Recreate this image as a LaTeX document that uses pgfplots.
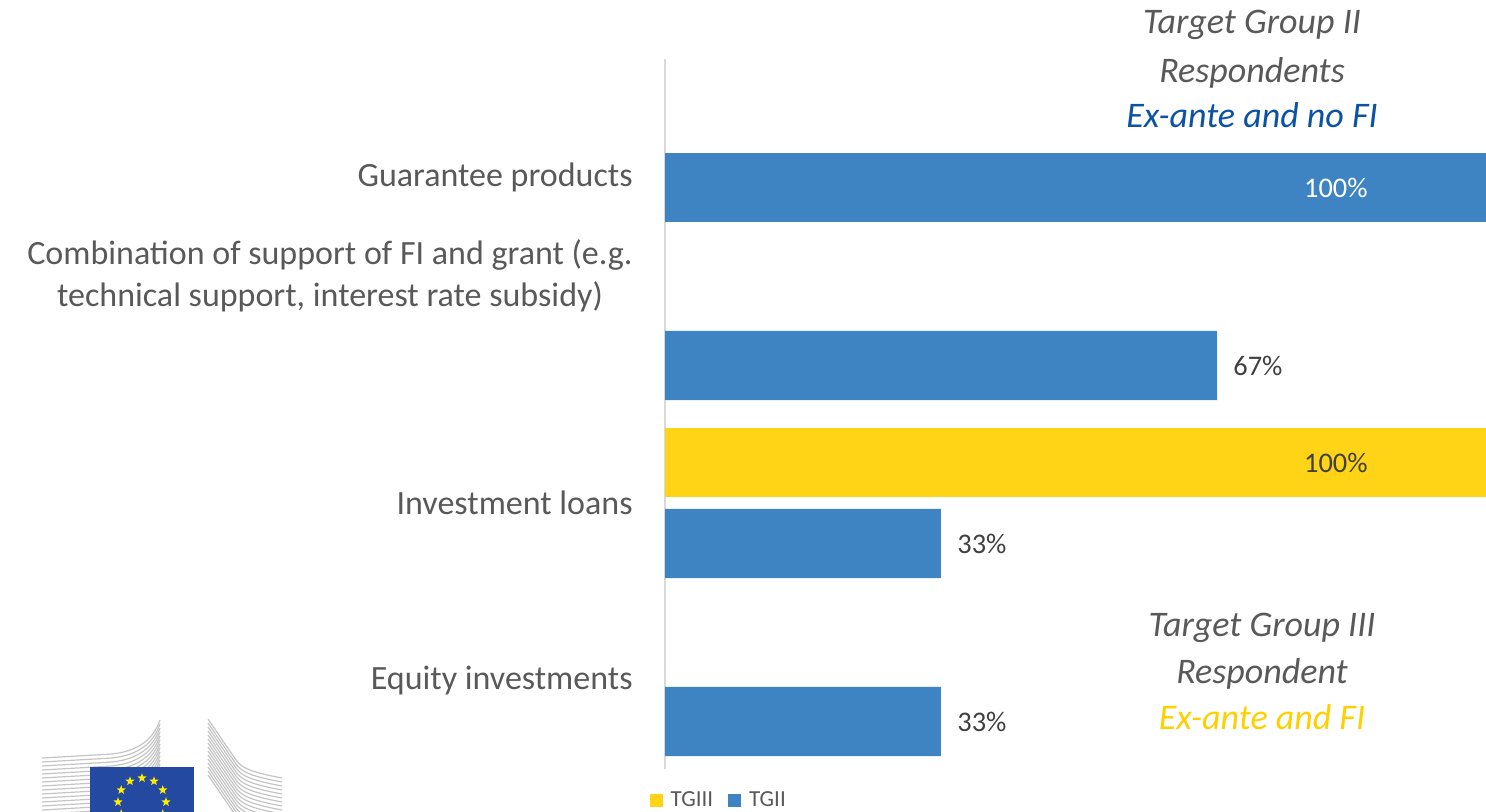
\documentclass[border=0pt]{standalone}
\usepackage{pgfplots}
\pgfplotsset{compat=1.18}
\usepackage{fontspec}
\setmainfont{Carlito}
\usetikzlibrary{shapes.geometric}
\definecolor{barblue}{HTML}{3E84C2}
\definecolor{baryellow}{HTML}{FFD417}
\definecolor{txtgray}{HTML}{595959}
\definecolor{lblgray}{HTML}{404040}
\definecolor{annblue}{HTML}{0B52A3}
\definecolor{annyellow}{HTML}{FFD000}
\definecolor{eublue}{HTML}{2349A1}
\definecolor{euyellow}{HTML}{FFED00}
\definecolor{bldgray}{HTML}{C4C4C4}
\begin{document}
\begin{tikzpicture}
\useasboundingbox (0,0) rectangle (743pt,405.5pt);
\begin{axis}[
  at={(332.5pt,21pt)}, anchor=south west,
  scale only axis, width=414pt, height=355pt,
  xbar, bar width=0.388, bar shift=0pt,
  xmin=0, xmax=100, ymin=-0.4944, ymax=3.4944,
  axis x line=none, axis y line*=left,
  y axis line style={draw=black!15, line width=0.75pt},
  xtick=\empty,
  ytick={0,1,2.275,2.83},
  yticklabels={Equity investments, Investment loans, {Combination of support of FI and grant (e.g.\\technical support, interest rate subsidy)}, Guarantee products},
  yticklabel style={font=\fontsize{17}{21}\selectfont, text=txtgray, align=center, inner sep=0pt, xshift=-16pt},
  major tick length=0pt,
  /pgf/number format/assume math mode=true,
  nodes near coords={\pgfmathprintnumber[fixed,precision=0]{\pgfplotspointmeta}\%},
  every node near coord/.append style={inner sep=0pt, text=lblgray, font=\fontsize{14.2}{17}\selectfont},
  legend style={at={(0.0655,-0.045)}, anchor=center, draw=none, fill=none,
    font=\fontsize{11.5}{13}\selectfont, text=txtgray,
    /tikz/every odd column/.append style={column sep=2.5pt},
    /tikz/every even column/.append style={column sep=6pt},
    nodes={inner sep=1.5pt}},
  legend columns=2,
  legend image code/.code={\fill[#1] (0pt,-3.25pt) rectangle (6.5pt,3.25pt);},
]
\addplot[fill=baryellow, draw=none,
  every node near coord/.append style={anchor=east, xshift=-62.5pt}]
  coordinates {(100,1.2275)};
\addlegendentry{TGIII}
\addplot[fill=barblue, draw=none,
  every node near coord/.append style={anchor=east, xshift=-62.5pt, text=white}]
  coordinates {(100,2.7725)};
\addlegendentry{TGII}
\addplot[fill=barblue, draw=none, forget plot,
  every node near coord/.append style={anchor=west, xshift=8pt}]
  coordinates {(66.67,1.7725) (33.33,0.7725) (33.33,-0.2275)};
\end{axis}
\begin{scope}[x=0.5pt, y=-0.5pt, shift={(0pt,405.5pt)}]
  % annotations
  \node[anchor=base, font=\fontsize{18}{22}\selectfont\itshape, text=txtgray] at (1252,34) {Target Group II};
  \node[anchor=base, font=\fontsize{18}{22}\selectfont\itshape, text=txtgray] at (1252,82) {Respondents};
  \node[anchor=base, font=\fontsize{18}{22}\selectfont\itshape, text=annblue] at (1252,127) {Ex-ante and no FI};
  \node[anchor=base, font=\fontsize{18}{22}\selectfont\itshape, text=txtgray] at (1262,636) {Target Group III};
  \node[anchor=base, font=\fontsize{18}{22}\selectfont\itshape, text=txtgray] at (1262,683) {Respondent};
  \node[anchor=base, font=\fontsize{18}{22}\selectfont\itshape, text=annyellow] at (1262,729) {Ex-ante and FI};
  % EU logo (decorative)
  \foreach \i in {0,...,14} {
    \draw[bldgray, line width=0.6pt] (42,{758+4*\i}) -- (112,{754+4*\i}) .. controls (138,{751+4*\i}) and (153,{740+4*\i}) .. (160,{720+4*\i});
    \draw[bldgray, line width=0.6pt] (208,{719+4*\i}) -- (236,{760+4*\i}) .. controls (242,{768+4*\i}) and (250,{772+4*\i}) .. (282,{778+4*\i});
  }
  \fill[eublue] (90,767) rectangle (194,820);
  \foreach \a in {0,30,...,330} {
    \node[star, star points=5, star point ratio=2.4, fill=euyellow, inner sep=0pt, minimum size=4.8pt] at ({142+24*cos(\a)},{802-24*sin(\a)}) {};
  }
\end{scope}
\end{tikzpicture}
\end{document}
